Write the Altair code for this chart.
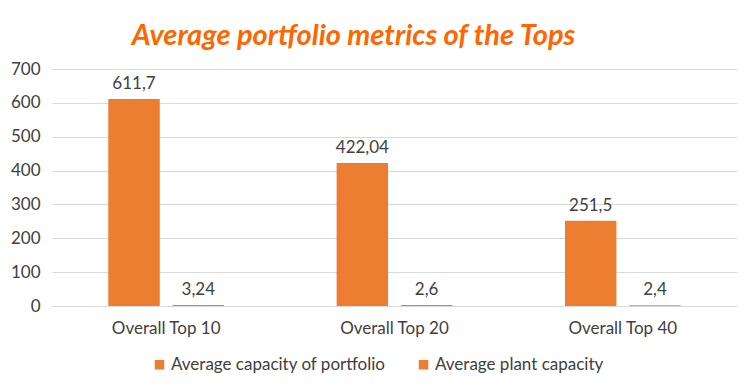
import altair as alt
import pandas as pd

categories = ["Overall Top 10", "Overall Top 20", "Overall Top 40"]
series_names = ["Average capacity of portfolio", "Average plant capacity"]
portfolio_capacity = [611.7, 422.04, 251.5]
plant_capacity = [3.24, 2.6, 2.4]
y_ticks = [0, 100, 200, 300, 400, 500, 600, 700]

rows = []
for i, cat in enumerate(categories):
    for s, vals in zip(series_names, [portfolio_capacity, plant_capacity]):
        v = vals[i]
        rows.append({"category": cat, "series": s, "value": v,
                     "label": str(v).replace(".", ",")})
df = pd.DataFrame(rows)

FONT = "Lato"
BAR = "#ED7D31"
TXT = "#404040"

base = alt.Chart(df).encode(
    x=alt.X("category:N", sort=categories, title=None,
            scale=alt.Scale(paddingInner=0.493, paddingOuter=0.2465),
            axis=alt.Axis(labelAngle=0, labelFont=FONT, labelFontSize=17,
                          labelColor=TXT, labelPadding=14, domain=False,
                          ticks=False, grid=False)),
    xOffset=alt.XOffset("series:N", sort=series_names,
                        scale=alt.Scale(paddingInner=0.2, paddingOuter=0)),
    y=alt.Y("value:Q", title=None,
            scale=alt.Scale(domain=[0, 700], nice=False),
            axis=alt.Axis(values=y_ticks, labelOverlap=False,
                          labelFont=FONT, labelFontSize=17, labelColor=TXT,
                          labelPadding=12, domain=False, ticks=False,
                          gridColor="#d9d9d9", gridWidth=1)),
)

bars = base.mark_bar().encode(
    color=alt.Color("series:N", sort=series_names,
                    scale=alt.Scale(domain=series_names, range=[BAR, BAR]),
                    legend=alt.Legend(title=None, orient="none",
                                      direction="horizontal",
                                      legendX=99, legendY=287,
                                      symbolType="square", symbolSize=90,
                                      symbolStrokeWidth=0,
                                      labelFont=FONT, labelFontSize=17,
                                      labelColor=TXT, labelOffset=3,
                                      columnPadding=29, labelLimit=400)),
)

labels = base.mark_text(baseline="bottom", dy=-6, font=FONT,
                        fontSize=17, color=TXT).encode(text="label:N")

chart = (bars + labels).properties(
    width=685, height=237,
    autosize=alt.AutoSizeParams(type="none"),
    padding={"left": 44, "top": 61, "right": 5, "bottom": 70},
    title=alt.TitleParams("Average portfolio metrics of the Tops",
                          font=FONT, fontSize=29, fontWeight="bold",
                          fontStyle="italic", color="#FF6600",
                          anchor="middle", dx=-41, offset=9),
).configure_view(stroke=None)

chart.save("out.html", embed_options={"renderer": "svg", "actions": False})
